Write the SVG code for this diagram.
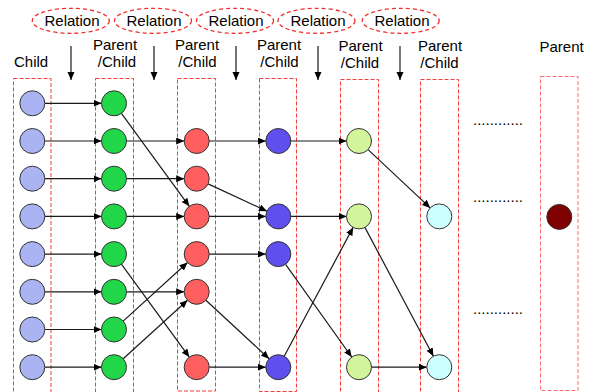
<svg xmlns="http://www.w3.org/2000/svg" width="591" height="392" viewBox="0 0 591 392">
<style>
text{font-family:"Liberation Sans",Arial,sans-serif;font-size:15px;fill:#000}
.rel{fill:none;stroke:#f03030;stroke-width:1.3;stroke-dasharray:4,3}
.box{fill:none;stroke:#f83a3a;stroke-width:1;stroke-dasharray:4,2}
circle{stroke:#333;stroke-width:1}
.c1{fill:#aab4f2}.c2{fill:#22d64a}.c3{fill:#ff5f5f}.c4{fill:#5f4fef}.c5{fill:#d2f59c}.c6{fill:#ccffff}.cp{fill:#7f0000}
#connectors line{stroke:#1a1a1a;stroke-width:1.2;marker-end:url(#ah)}
</style>
<defs>
<marker id="ah" markerUnits="userSpaceOnUse" markerWidth="9" markerHeight="8" refX="8" refY="3.5" orient="auto"><path d="M0,0 L8,3.5 L0,7 z" fill="#000"/></marker>
</defs>
<rect width="591" height="392" fill="#fff"/>
<g id="relations">
<g id="rel1"><ellipse class="rel" cx="70.8" cy="20.8" rx="38.5" ry="12.5"/><text x="72" y="26" text-anchor="middle">Relation</text></g>
<g id="rel2"><ellipse class="rel" cx="153" cy="20.8" rx="38.5" ry="12.5"/><text x="154" y="26" text-anchor="middle">Relation</text></g>
<g id="rel3"><ellipse class="rel" cx="235" cy="20.8" rx="38.5" ry="12.5"/><text x="236" y="26" text-anchor="middle">Relation</text></g>
<g id="rel4"><ellipse class="rel" cx="316.5" cy="20.8" rx="38.5" ry="12.5"/><text x="318" y="26" text-anchor="middle">Relation</text></g>
<g id="rel5"><ellipse class="rel" cx="400.7" cy="20.8" rx="38.5" ry="12.5"/><text x="402" y="26" text-anchor="middle">Relation</text></g>
</g>
<g id="labels">
<text x="14" y="66.5">Child</text>
<text x="115" y="50" text-anchor="middle">Parent</text><text x="117" y="67" text-anchor="middle">/Child</text>
<text x="197" y="49.5" text-anchor="middle">Parent</text><text x="197.5" y="66.5" text-anchor="middle">/Child</text>
<text x="279" y="50" text-anchor="middle">Parent</text><text x="279.5" y="67" text-anchor="middle">/Child</text>
<text x="360.5" y="50.5" text-anchor="middle">Parent</text><text x="360" y="67.5" text-anchor="middle">/Child</text>
<text x="440" y="50.5" text-anchor="middle">Parent</text><text x="439.5" y="67.5" text-anchor="middle">/Child</text>
<text x="539.5" y="51.5">Parent</text>
<text x="473" y="125">............</text>
<text x="473" y="201.5">............</text>
<text x="473" y="314">............</text>
</g>
<g id="boxes">
<rect class="box" x="13.5" y="78.5" width="37.5" height="314"/>
<rect class="box" x="95.5" y="78.5" width="38" height="314"/>
<rect class="box" x="177.5" y="78.5" width="38" height="312.5"/>
<rect class="box" x="259.5" y="78.5" width="37" height="313"/>
<rect class="box" x="340.5" y="79.5" width="38" height="313"/>
<rect class="box" x="420.5" y="79.5" width="38" height="313"/>
<rect class="box" x="540.5" y="76.5" width="37.5" height="314" style="stroke:#ff6a6a"/>
</g>
<g id="connectors">
<line x1="71" y1="46" x2="71" y2="80"/>
<line x1="154" y1="46" x2="154" y2="80"/>
<line x1="236" y1="46" x2="236" y2="80"/>
<line x1="318" y1="46" x2="318" y2="80"/>
<line x1="400" y1="46" x2="400" y2="80"/>
<line x1="44.8" y1="103.3" x2="101.5" y2="103.3"/>
<line x1="44.8" y1="141" x2="101.5" y2="141"/>
<line x1="44.8" y1="178.7" x2="101.5" y2="178.7"/>
<line x1="44.8" y1="216.4" x2="101.5" y2="216.4"/>
<line x1="44.8" y1="254.1" x2="101.5" y2="254.1"/>
<line x1="44.8" y1="291.8" x2="101.5" y2="291.8"/>
<line x1="44.8" y1="329.5" x2="101.5" y2="329.5"/>
<line x1="44.8" y1="367.2" x2="101.5" y2="367.2"/>
<line x1="121.4" y1="113.4" x2="189.3" y2="206.3"/>
<line x1="126.5" y1="141" x2="184.2" y2="141"/>
<line x1="126.5" y1="178.7" x2="184.2" y2="178.7"/>
<line x1="126.5" y1="216.4" x2="184.2" y2="216.4"/>
<line x1="121.4" y1="264.2" x2="189.3" y2="357.1"/>
<line x1="126.5" y1="291.8" x2="184.2" y2="291.8"/>
<line x1="123.2" y1="321.1" x2="187.5" y2="262.5"/>
<line x1="123.2" y1="358.8" x2="187.5" y2="300.2"/>
<line x1="209.2" y1="141" x2="265.8" y2="141"/>
<line x1="208.1" y1="183.9" x2="267" y2="211.2"/>
<line x1="209.2" y1="216.4" x2="265.8" y2="216.4"/>
<line x1="209.2" y1="254.1" x2="265.8" y2="254.1"/>
<line x1="205.9" y1="300.3" x2="269.1" y2="358.7"/>
<line x1="209.2" y1="367.2" x2="265.8" y2="367.2"/>
<line x1="290.8" y1="141" x2="346.5" y2="141"/>
<line x1="290.8" y1="216.4" x2="346.5" y2="216.4"/>
<line x1="285.6" y1="264.3" x2="351.7" y2="357"/>
<line x1="284.2" y1="356.2" x2="353.1" y2="227.4"/>
<line x1="368.1" y1="149.6" x2="430.2" y2="207.9"/>
<line x1="364.9" y1="227.4" x2="433.4" y2="356.2"/>
<line x1="371.5" y1="367.2" x2="426.8" y2="367.2"/>
</g>
<g id="col1">
<circle id="n1_0" class="c1" cx="32.3" cy="103.3" r="12.5"/>
<circle id="n1_1" class="c1" cx="32.3" cy="141" r="12.5"/>
<circle id="n1_2" class="c1" cx="32.3" cy="178.7" r="12.5"/>
<circle id="n1_3" class="c1" cx="32.3" cy="216.4" r="12.5"/>
<circle id="n1_4" class="c1" cx="32.3" cy="254.1" r="12.5"/>
<circle id="n1_5" class="c1" cx="32.3" cy="291.8" r="12.5"/>
<circle id="n1_6" class="c1" cx="32.3" cy="329.5" r="12.5"/>
<circle id="n1_7" class="c1" cx="32.3" cy="367.2" r="12.5"/>
</g>
<g id="col2">
<circle id="n2_0" class="c2" cx="114" cy="103.3" r="12.5"/>
<circle id="n2_1" class="c2" cx="114" cy="141" r="12.5"/>
<circle id="n2_2" class="c2" cx="114" cy="178.7" r="12.5"/>
<circle id="n2_3" class="c2" cx="114" cy="216.4" r="12.5"/>
<circle id="n2_4" class="c2" cx="114" cy="254.1" r="12.5"/>
<circle id="n2_5" class="c2" cx="114" cy="291.8" r="12.5"/>
<circle id="n2_6" class="c2" cx="114" cy="329.5" r="12.5"/>
<circle id="n2_7" class="c2" cx="114" cy="367.2" r="12.5"/>
</g>
<g id="col3">
<circle id="n3_1" class="c3" cx="196.7" cy="141" r="12.5"/>
<circle id="n3_2" class="c3" cx="196.7" cy="178.7" r="12.5"/>
<circle id="n3_3" class="c3" cx="196.7" cy="216.4" r="12.5"/>
<circle id="n3_4" class="c3" cx="196.7" cy="254.1" r="12.5"/>
<circle id="n3_5" class="c3" cx="196.7" cy="291.8" r="12.5"/>
<circle id="n3_7" class="c3" cx="196.7" cy="367.2" r="12.5"/>
</g>
<g id="col4">
<circle id="n4_1" class="c4" cx="278.3" cy="141" r="12.5"/>
<circle id="n4_3" class="c4" cx="278.3" cy="216.4" r="12.5"/>
<circle id="n4_4" class="c4" cx="278.3" cy="254.1" r="12.5"/>
<circle id="n4_7" class="c4" cx="278.3" cy="367.2" r="12.5"/>
</g>
<g id="col5">
<circle id="n5_1" class="c5" cx="359" cy="141" r="12.5"/>
<circle id="n5_3" class="c5" cx="359" cy="216.4" r="12.5"/>
<circle id="n5_7" class="c5" cx="359" cy="367.2" r="12.5"/>
</g>
<g id="col6">
<circle id="n6_3" class="c6" cx="439.3" cy="216.4" r="12.5"/>
<circle id="n6_7" class="c6" cx="439.3" cy="367.2" r="12.5"/>
</g>
<g id="parent">
<circle id="np" class="cp" cx="559.3" cy="216.9" r="12.5"/>
</g>
</svg>
